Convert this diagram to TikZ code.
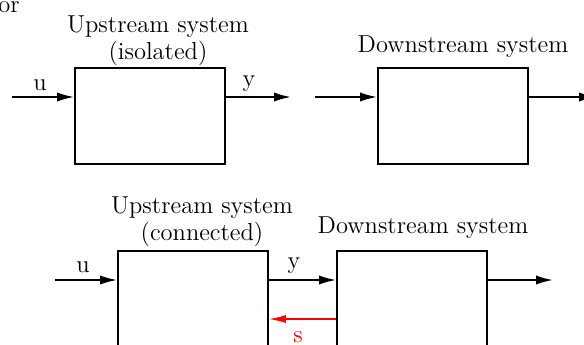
\documentclass[tikz,border=0pt]{standalone}
\usetikzlibrary{arrows.meta}
\begin{document}
\begin{tikzpicture}[x=0.5pt,y=-0.5pt,
  blk/.style={draw,line width=0.9pt,minimum width=75pt,minimum height=48pt,inner sep=0pt},
  sig/.style={line width=0.9pt,-{Latex[length=8.5pt,width=4.6pt]}},
  fb/.style={red,line width=0.7pt,-{Latex[length=8.5pt,width=4pt]}},
  lbl/.style={font=\fontsize{12.25}{14}\selectfont,inner sep=0pt,anchor=base},
]
\useasboundingbox (0,0) rectangle (584,344);
\clip (0,0) rectangle (584,344);
% partial text at top-left
\node[lbl,anchor=base east] (or) at (20,12) {or};
% blocks
\node[blk] (b1) at (150,116) {};
\node[blk] (b2) at (453,116) {};
\node[blk] (b3) at (193,299) {};
\node[blk] (b4) at (412,299) {};
% titles
\node[lbl] (t1a) at (158,32) {Upstream system};
\node[lbl] (t1b) at (158,59) {(isolated)};
\node[lbl] (t2) at (463,52) {Downstream system};
\node[lbl] (t3a) at (202,213) {Upstream system};
\node[lbl] (t3b) at (202,240) {(connected)};
\node[lbl] (t4) at (423,233) {Downstream system};
% signal labels
\node[lbl] (u1) at (40,90) {u};
\node[lbl] (y1) at (249,86) {y};
\node[lbl] (u2) at (83,272) {u};
\node[lbl] (y2) at (294,268) {y};
\node[lbl,red] (s) at (298,342) {s};
% connectors
\coordinate (in1) at (12,97);
\coordinate (o1) at (291,97);
\coordinate (in2) at (315,97);
\coordinate (o2) at (596,97);
\coordinate (in3) at (55,280);
\coordinate (o4) at (553,280);
\coordinate (fbk) at (0,319);
\draw[sig] (in1) -- (in1 -| b1.west);
\draw[sig] (o1 -| b1.east) -- (o1);
\draw[sig] (in2) -- (in2 -| b2.west);
\draw[sig] (o2 -| b2.east) -- (o2);
\draw[sig] (in3) -- (in3 -| b3.west);
\draw[sig] (in3 -| b3.east) -- (in3 -| b4.west);
\draw[sig] (o4 -| b4.east) -- (o4);
\draw[fb] (fbk -| b4.west) -- (fbk -| b3.east);
\end{tikzpicture}
\end{document}
